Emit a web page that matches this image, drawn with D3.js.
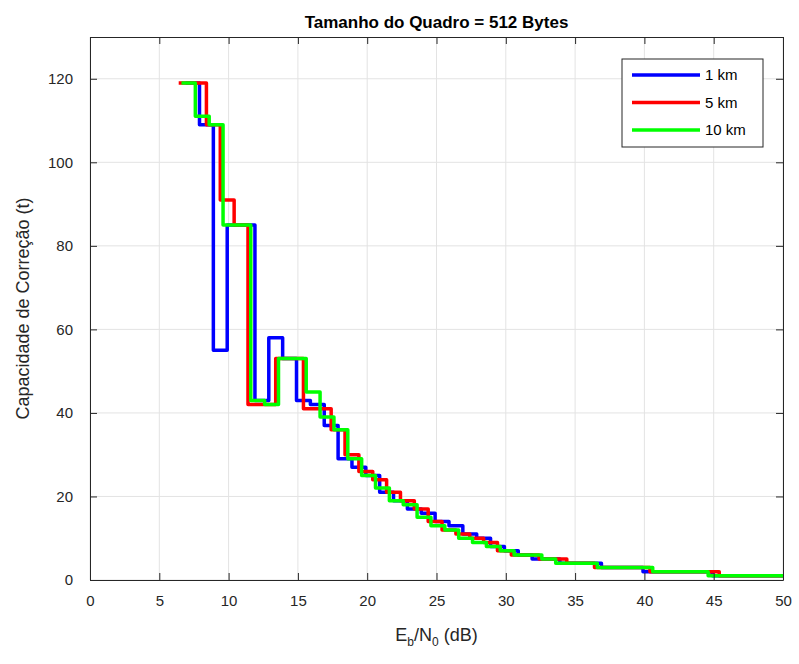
<!DOCTYPE html>
<html>
<head>
<meta charset="utf-8">
<script src="https://cdn.jsdelivr.net/npm/d3@7"></script>
<style>
  body { margin: 0; background: #fff; }
  text { font-family: "Liberation Sans", Arial, sans-serif; }
</style>
</head>
<body>
<div id="container"></div>
<script>
/* DATA */
const seriesNames = ["1 km", "5 km", "10 km"];
const seriesColors = ["#0000ff", "#ff0000", "#00ff00"];

const ebn0_1km = [6.9, 7.9, 8.9, 9.9, 10.9, 11.9, 12.9, 13.9, 14.9, 15.9, 16.9, 17.9, 18.9, 19.9, 20.9,
  21.9, 22.9, 23.9, 24.9, 25.9, 26.9, 27.9, 28.9, 29.9, 30.9, 31.9, 32.9, 33.9, 34.9, 35.9,
  36.9, 37.9, 38.9, 39.9, 40.9, 41.9, 42.9, 43.9, 44.9, 45.9, 46.9, 47.9, 48.9, 49.9, 50.9];
const t_1km = [119, 109, 55, 85, 85, 43, 58, 53, 43, 42, 37, 29, 27, 25, 21,
  19, 17, 16, 14, 13, 11, 10, 8, 7, 6, 5, 5, 4, 4, 4,
  3, 3, 3, 2, 2, 2, 2, 2, 1, 1, 1, 1, 1, 1, 1];

const ebn0_5km = [6.4, 7.4, 8.4, 9.4, 10.4, 11.4, 12.4, 13.4, 14.4, 15.4, 16.4, 17.4, 18.4, 19.4, 20.4,
  21.4, 22.4, 23.4, 24.4, 25.4, 26.4, 27.4, 28.4, 29.4, 30.4, 31.4, 32.4, 33.4, 34.4, 35.4,
  36.4, 37.4, 38.4, 39.4, 40.4, 41.4, 42.4, 43.4, 44.4, 45.4, 46.4, 47.4, 48.4, 49.4, 50.4];
const t_5km = [119, 119, 109, 91, 85, 42, 42, 53, 53, 41, 41, 36, 30, 26, 24,
  21, 19, 17, 14, 12, 11, 10, 9, 7, 6, 6, 5, 5, 4, 4,
  3, 3, 3, 3, 2, 2, 2, 2, 2, 1, 1, 1, 1, 1, 1];

const ebn0_10km = [6.6, 7.6, 8.6, 9.6, 10.6, 11.6, 12.6, 13.6, 14.6, 15.6, 16.6, 17.6, 18.6, 19.6, 20.6,
  21.6, 22.6, 23.6, 24.6, 25.6, 26.6, 27.6, 28.6, 29.6, 30.6, 31.6, 32.6, 33.6, 34.6, 35.6,
  36.6, 37.6, 38.6, 39.6, 40.6, 41.6, 42.6, 43.6, 44.6, 45.6, 46.6, 47.6, 48.6, 49.6, 50.6];
const t_10km = [119, 111, 109, 85, 85, 43, 42, 53, 53, 45, 39, 36, 29, 25, 22,
  19, 18, 15, 13, 12, 10, 9, 8, 7, 6, 6, 5, 4, 4, 4,
  3, 3, 3, 3, 2, 2, 2, 2, 1, 1, 1, 1, 1, 1, 1];

const xTicks = [0, 5, 10, 15, 20, 25, 30, 35, 40, 45, 50];
const yTicks = [0, 20, 40, 60, 80, 100, 120];

/* CONSTANTS */
const width = 799, height = 664;
const margin = {top: 37, bottom: 84, left: 90, right: 16};
const axisColor = "#262626";

const series = [
  {name: seriesNames[0], color: seriesColors[0], pts: ebn0_1km.map((x, i) => [x, t_1km[i]])},
  {name: seriesNames[1], color: seriesColors[1], pts: ebn0_5km.map((x, i) => [x, t_5km[i]])},
  {name: seriesNames[2], color: seriesColors[2], pts: ebn0_10km.map((x, i) => [x, t_10km[i]])}
];

/* SCALES */
const xScale = d3.scaleLinear().domain([0, 50]).range([margin.left, width - margin.right]);
const yScale = d3.scaleLinear().domain([0, 130]).range([height - margin.bottom, margin.top]);

const svg = d3.select("#container").append("svg")
    .attr("width", width)
    .attr("height", height);

const x0 = margin.left, x1 = width - margin.right;
const y0 = height - margin.bottom, y1 = margin.top;

// grid
svg.append("g").selectAll("line").data(xTicks).join("line")
    .attr("x1", d => xScale(d)).attr("x2", d => xScale(d))
    .attr("y1", y0).attr("y2", y1)
    .attr("stroke", "#e3e3e3").attr("stroke-width", 1);
svg.append("g").selectAll("line").data(yTicks).join("line")
    .attr("x1", x0).attr("x2", x1)
    .attr("y1", d => yScale(d)).attr("y2", d => yScale(d))
    .attr("stroke", "#e3e3e3").attr("stroke-width", 1);

// clip
svg.append("clipPath").attr("id", "plotclip")
  .append("rect").attr("x", x0).attr("y", y1).attr("width", x1 - x0).attr("height", y0 - y1);

const line = d3.line()
    .x(d => xScale(d[0]))
    .y(d => yScale(d[1]))
    .curve(d3.curveStepAfter);

svg.append("g").attr("clip-path", "url(#plotclip)")
  .selectAll("path").data(series).join("path")
    .attr("d", d => line(d.pts))
    .attr("fill", "none")
    .attr("stroke", d => d.color)
    .attr("stroke-width", 3.5)
    .attr("stroke-linejoin", "round");

// axes
const styleAxis = g => {
  g.select(".domain").attr("stroke", axisColor);
  g.selectAll(".tick line").attr("stroke", axisColor);
  g.selectAll(".tick text").attr("fill", axisColor).style("font-size", "15px")
    .style("font-family", "'Liberation Sans', Arial, sans-serif");
};

svg.append("g").attr("transform", `translate(0,${y0})`)
  .call(d3.axisBottom(xScale).tickValues(xTicks).tickSizeInner(-7).tickSizeOuter(0).tickPadding(15))
  .call(styleAxis);
svg.append("g").attr("transform", `translate(0,${y1})`)
  .call(d3.axisTop(xScale).tickValues(xTicks).tickSizeInner(-7).tickSizeOuter(0).tickFormat(""))
  .call(styleAxis);
svg.append("g").attr("transform", `translate(${x0},0)`)
  .call(d3.axisLeft(yScale).tickValues(yTicks).tickSizeInner(-7).tickSizeOuter(0).tickPadding(17))
  .call(styleAxis);
svg.append("g").attr("transform", `translate(${x1},0)`)
  .call(d3.axisRight(yScale).tickValues(yTicks).tickSizeInner(-7).tickSizeOuter(0).tickFormat(""))
  .call(styleAxis);

// title
svg.append("text")
    .attr("x", (x0 + x1) / 2).attr("y", 28)
    .attr("text-anchor", "middle")
    .style("font-size", "17px").style("font-weight", "bold")
    .attr("fill", "#000")
    .text("Tamanho do Quadro = 512 Bytes");

// x label
const xl = svg.append("text")
    .attr("x", (x0 + x1) / 2).attr("y", 641)
    .attr("text-anchor", "middle")
    .style("font-size", "18px")
    .attr("fill", axisColor);
xl.append("tspan").text("E");
xl.append("tspan").attr("dy", 5).style("font-size", "12px").text("b");
xl.append("tspan").attr("dy", -5).text("/N");
xl.append("tspan").attr("dy", 5).style("font-size", "12px").text("0");
xl.append("tspan").attr("dy", -5).text(" (dB)");

// y label
svg.append("text")
    .attr("transform", `translate(29,${(y0 + y1) / 2}) rotate(-90)`)
    .attr("text-anchor", "middle")
    .style("font-size", "18px")
    .attr("fill", axisColor)
    .text("Capacidade de Correção (t)");

// legend
const lg = svg.append("g");
lg.append("rect")
    .attr("x", 622).attr("y", 59).attr("width", 141).attr("height", 88)
    .attr("fill", "#fff").attr("stroke", axisColor).attr("stroke-width", 1);
series.forEach((s, i) => {
  const ly = 75 + i * 27.5;
  lg.append("line")
      .attr("x1", 632).attr("x2", 700)
      .attr("y1", ly).attr("y2", ly)
      .attr("stroke", s.color).attr("stroke-width", 3.5);
  lg.append("text")
      .attr("x", 705).attr("y", ly + 5)
      .style("font-size", "15px")
      .attr("fill", "#000")
      .text(s.name);
});
</script>
</body>
</html>
